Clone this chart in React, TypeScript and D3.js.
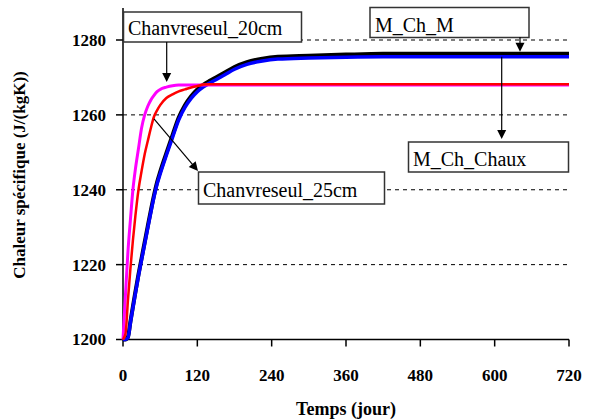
import React from "react";
import * as d3 from "d3";

const days = [0, 4, 8, 12, 16, 20, 25, 30, 35, 40, 45, 50, 55, 60, 70, 80, 90, 100, 110, 120, 130, 140, 150, 165, 180, 200, 225, 250, 300, 360, 420, 480, 540, 600, 660, 720];

const chanvre20 = [1200, 1212, 1223.5, 1232, 1240, 1245.5, 1251, 1256.5, 1260, 1262.3, 1264, 1265.2, 1266.2, 1266.8, 1267.4, 1267.8, 1267.95, 1267.95, 1267.95, 1267.95, 1267.95, 1267.95, 1267.95, 1267.95, 1267.95, 1267.95, 1267.95, 1267.95, 1267.95, 1267.95, 1267.95, 1267.95, 1267.95, 1267.95, 1267.95, 1267.95];

const chanvre25 = [1200, 1201.5, 1210.5, 1219, 1226.5, 1233, 1240, 1245, 1249.5, 1253, 1256.5, 1259.5, 1261.2, 1262.6, 1264.5, 1265.5, 1266.3, 1266.8, 1267.3, 1267.7, 1268.1, 1268.15, 1268.15, 1268.15, 1268.15, 1268.15, 1268.15, 1268.15, 1268.15, 1268.15, 1268.15, 1268.15, 1268.15, 1268.15, 1268.15, 1268.15];

const mChM = [1200, 1200, 1200.7, 1204.8, 1208.8, 1212.7, 1217.4, 1221.7, 1226, 1230.3, 1234.5, 1238.5, 1242, 1244.8, 1249.8, 1254.6, 1259.3, 1262.6, 1265, 1266.8, 1268.1, 1269.1, 1270, 1271.4, 1272.8, 1274.1, 1275, 1275.5, 1275.8, 1276.1, 1276.3, 1276.3, 1276.3, 1276.3, 1276.3, 1276.3];

const mChChaux = [1200, 1200, 1200.5, 1204.5, 1208.5, 1212.3, 1217, 1221.3, 1225.5, 1229.8, 1234, 1238, 1241.5, 1244.2, 1249.2, 1254, 1258.7, 1262, 1264.4, 1266.2, 1267.5, 1268.5, 1269.4, 1270.8, 1272.2, 1273.5, 1274.4, 1274.9, 1275.2, 1275.4, 1275.5, 1275.5, 1275.5, 1275.5, 1275.5, 1275.5];

const xTicks = [0, 120, 240, 360, 480, 600, 720];
const yTicks = [1200, 1220, 1240, 1260, 1280];
const gridTicks = [1220, 1240, 1260, 1280];

const xTitle = "Temps (jour)";
const yTitle = "Chaleur spécifique (J/(kgK))";
const labels = ["Chanvreseul_20cm", "Chanvreseul_25cm", "M_Ch_M", "M_Ch_Chaux"];

const FONT = 'Tinos, "Liberation Serif", "Noto Serif", FreeSerif, "Nimbus Roman", "Nimbus Roman No9 L", Times, "Times New Roman", "DejaVu Serif", serif';

export default function App() {
  const x = d3.scaleLinear().domain([0, 720]).range([123, 569]);
  const y = d3.scaleLinear().domain([1200, 1280]).range([339.5, 40]);
  const line = (vals: number[]) =>
    d3
      .line<number>()
      .x((_, i) => x(days[i]))
      .y((v) => y(v))
      .curve(d3.curveMonotoneX)(vals) as string;

  const series = [
    { vals: mChM, color: "#000000", w: 4 },
    { vals: mChChaux, color: "#0000FF", w: 3.5 },
    { vals: chanvre20, color: "#FF00FF", w: 3 },
    { vals: chanvre25, color: "#FF0000", w: 2.5 },
  ];

  const boxStyle = { fill: "#fff", stroke: "#333", strokeWidth: 1.5 };
  const arrowHead = (tx: number, ty: number, angle: number) => {
    const L = 9, W = 4.5;
    const bx = tx - L * Math.cos(angle), by = ty - L * Math.sin(angle);
    const px = -Math.sin(angle) * W, py = Math.cos(angle) * W;
    return `M${tx},${ty}L${bx + px},${by + py}L${bx - px},${by - py}Z`;
  };

  const a1x = 166.7, a1y0 = 42, a1tip = y(1268) - 3;
  const a2x0 = 154, a2y0 = y(1260) + 4, a2tx = 198, a2ty = 171;
  const a2ang = Math.atan2(a2ty - a2y0, a2tx - a2x0);
  const a3x = 520, a3y0 = 37, a3tip = y(1276.3) - 2;
  const a4x = 501.7, a4y0 = y(1275.5), a4tip = 141;

  const tStyle = { fontFamily: FONT };

  return (
    <svg
      width={593}
      height={420}
      style={{ position: "absolute", left: 0, top: 0, background: "#fff", fontFamily: FONT }}
    >
      <rect width={593} height={420} fill="#fff" />
      {gridTicks.map((t) => (
        <line key={t} x1={x(0)} x2={x(720)} y1={y(t)} y2={y(t)} stroke="#000" strokeWidth={1} strokeDasharray="4,4" />
      ))}
      <line x1={x(0)} x2={x(0)} y1={8} y2={y(1200)} stroke="#000" strokeWidth={1.5} />
      <line x1={x(0)} x2={x(720)} y1={y(1200)} y2={y(1200)} stroke="#000" strokeWidth={1.5} />
      {yTicks.map((t) => (
        <g key={t}>
          <line x1={x(0) - 7} x2={x(0)} y1={y(t)} y2={y(t)} stroke="#000" strokeWidth={1.5} />
          <text x={106} y={y(t)} dy="0.35em" textAnchor="end" fontWeight="bold" fontSize={17} style={tStyle}>
            {t}
          </text>
        </g>
      ))}
      {xTicks.map((t) => (
        <g key={t}>
          <line x1={x(t)} x2={x(t)} y1={y(1200)} y2={y(1200) + 7} stroke="#000" strokeWidth={1.5} />
          <text x={x(t)} y={381} textAnchor="middle" fontWeight="bold" fontSize={17} style={tStyle}>
            {t}
          </text>
        </g>
      ))}
      <text x={346} y={415} textAnchor="middle" fontWeight="bold" fontSize={18} style={tStyle}>
        {xTitle}
      </text>
      <text
        transform={`translate(25,175) rotate(-90)`}
        textAnchor="middle"
        fontWeight="bold"
        fontSize={17}
        style={tStyle}
      >
        {yTitle}
      </text>
      {series.map((s, i) => (
        <path key={i} d={line(s.vals)} fill="none" stroke={s.color} strokeWidth={s.w} />
      ))}
      <rect x={123.5} y={12} width={178} height={30} {...boxStyle} />
      <text x={128} y={35} fontSize={20} style={tStyle}>{labels[0]}</text>
      <line x1={a1x} x2={a1x} y1={a1y0} y2={a1tip - 6} stroke="#000" strokeWidth={1.2} />
      <path d={arrowHead(a1x, a1tip, Math.PI / 2)} fill="#000" />
      <line x1={a2x0} y1={a2y0} x2={a2tx - 5 * Math.cos(a2ang)} y2={a2ty - 5 * Math.sin(a2ang)} stroke="#000" strokeWidth={1.2} />
      <rect x={198.5} y={172} width={186} height={32} {...boxStyle} />
      <path d={arrowHead(a2tx, a2ty, a2ang)} fill="#000" />
      <text x={203} y={197} fontSize={20} style={tStyle}>{labels[1]}</text>
      <rect x={370} y={7.5} width={159} height={30} {...boxStyle} />
      <text x={375} y={31.5} fontSize={20} style={tStyle}>{labels[2]}</text>
      <line x1={a3x} x2={a3x} y1={a3y0} y2={a3tip - 5} stroke="#000" strokeWidth={1.2} />
      <path d={arrowHead(a3x, a3tip, Math.PI / 2)} fill="#000" />
      <line x1={a4x} x2={a4x} y1={a4y0} y2={a4tip - 6} stroke="#000" strokeWidth={1.2} />
      <path d={arrowHead(a4x, a4tip - 2, Math.PI / 2)} fill="#000" />
      <rect x={408.5} y={142} width={160} height={30} {...boxStyle} />
      <text x={413} y={166} fontSize={20} style={tStyle}>{labels[3]}</text>
    </svg>
  );
}
